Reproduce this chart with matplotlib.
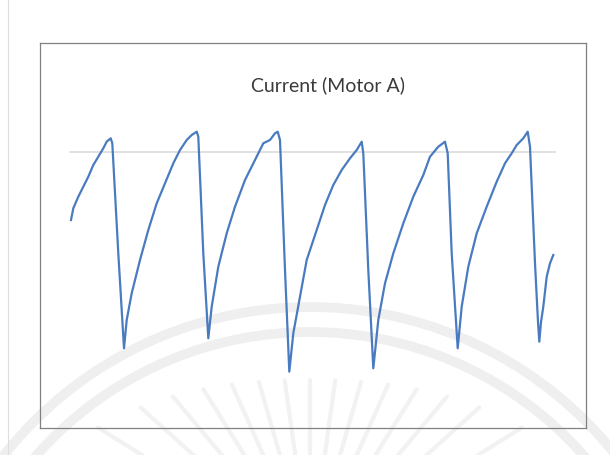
import matplotlib
matplotlib.use("Agg")
import matplotlib.pyplot as plt
from matplotlib.patches import Arc
import numpy as np

# ---- data (time in s, current in A) ----
time_s = [0.000, 0.023, 0.073, 0.123, 0.173, 0.223, 0.273, 0.323, 0.357, 0.397, 0.413,
          0.473, 0.530, 0.557, 0.607, 0.690, 0.773, 0.857, 0.940, 1.023, 1.090, 1.157,
          1.207, 1.257, 1.273, 1.323, 1.373, 1.407, 1.473, 1.557, 1.640, 1.740, 1.840,
          1.923, 1.990, 2.040, 2.067, 2.090, 2.140, 2.183, 2.223, 2.290, 2.357, 2.457,
          2.540, 2.623, 2.707, 2.790, 2.857, 2.907, 2.923, 2.973, 3.023, 3.073, 3.140,
          3.223, 3.323, 3.423, 3.523, 3.590, 3.673, 3.740, 3.767, 3.807, 3.867, 3.907,
          3.973, 4.057, 4.157, 4.257, 4.340, 4.407, 4.457, 4.523, 4.567, 4.590, 4.640,
          4.670, 4.683, 4.700, 4.723, 4.757, 4.790, 4.823]
current_a = [1.800, 1.917, 2.033, 2.133, 2.233, 2.350, 2.433, 2.517, 2.583, 2.617, 2.567,
             1.467, 0.517, 0.800, 1.067, 1.400, 1.700, 1.967, 2.167, 2.367, 2.500, 2.600,
             2.650, 2.683, 2.633, 1.467, 0.617, 0.933, 1.333, 1.667, 1.933, 2.200, 2.400,
             2.567, 2.600, 2.667, 2.683, 2.600, 1.300, 0.283, 0.667, 1.033, 1.400, 1.700,
             1.950, 2.150, 2.300, 2.417, 2.500, 2.583, 2.467, 1.300, 0.317, 0.800, 1.167,
             1.467, 1.767, 2.033, 2.250, 2.433, 2.533, 2.583, 2.467, 1.467, 0.517, 0.933,
             1.333, 1.667, 1.933, 2.183, 2.367, 2.467, 2.550, 2.617, 2.683, 2.533, 1.367,
             0.780, 0.583, 0.780, 0.933, 1.233, 1.367, 1.450]
ref_time = [-0.01, 4.84]
ref_current = [2.48, 2.48]
title_text = "Current (Motor A)"

W, H = 610, 455
fig = plt.figure(figsize=(W / 100, H / 100), dpi=100)
fig.patch.set_facecolor("white")

# ---- faint scan watermark / page background (pixel coordinates) ----
bg = fig.add_axes([0, 0, 1, 1], zorder=0)
bg.set_xlim(0, W)
bg.set_ylim(H, 0)
bg.axis("off")
wm = "#efefef"
for r in (390, 365):
    bg.add_patch(Arc((310, 697), 2 * r, 2 * r, theta1=0, theta2=360,
                     color=wm, lw=7))
for ang in (-58, -48, -40, -32, -24, -16, -8, 0, 8, 16, 24, 32, 40, 48, 58):
    th = np.deg2rad(ang)
    r_out = 180 + 70 * (ang / 58) ** 2
    rs = np.array([r_out, r_out - 150])
    bg.plot(310 + rs * np.sin(th), 560 - rs * np.cos(th), color="#f2f2f2",
            lw=3.0, solid_capstyle="round")
bg.plot([8, 8], [0, H], color="#dedede", lw=0.8)

# ---- chart ----
px_l, px_r, px_t, px_b = 40, 586, 43, 428
ax = fig.add_axes([px_l / W, (H - px_b) / H, (px_r - px_l) / W, (px_b - px_t) / H],
                  zorder=1)
ax.patch.set_alpha(0)
ax.plot(ref_time, ref_current, color="#d8d8d8", lw=1.1)
ax.plot(time_s, current_a, color="#4a7bc0", lw=1.6)
ax.set_xlim(-0.31, 5.15)
ax.set_ylim(-0.28, 3.57)
ax.set_xticks([])
ax.set_yticks([])
for s in ax.spines.values():
    s.set_color("#808080")
    s.set_linewidth(0.9)

fig.text(328 / W, 1 - 85 / H, title_text, ha="center", va="center",
         fontsize=14, color="#3a3a3a", family=["Lato", "DejaVu Sans"])

fig.savefig("out.png", dpi=100)
